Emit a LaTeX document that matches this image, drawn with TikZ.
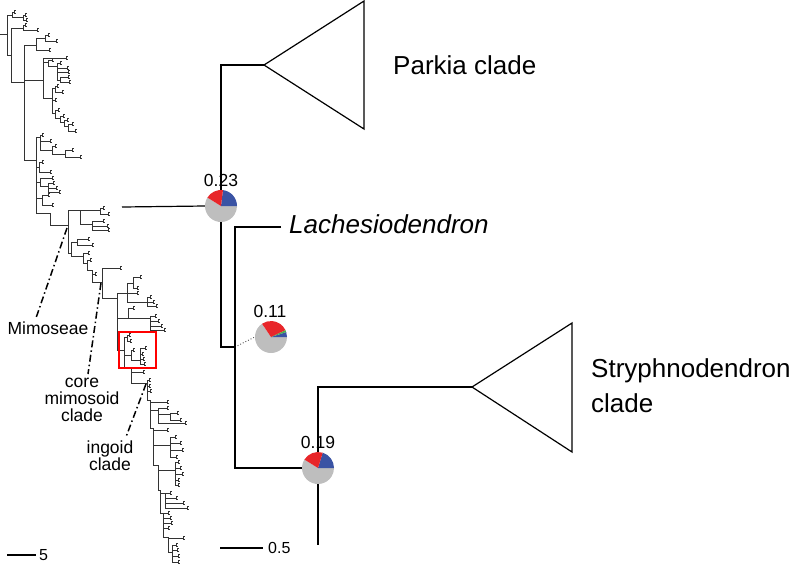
\documentclass[tikz,border=0pt]{standalone}
\usepackage{fontspec}
\setmainfont{Liberation Sans}
\newcommand{\treeH}[3]{\draw[tl] (#1,#3) -- (#2,#3);}
\newcommand{\treeV}[3]{\draw[tl] (#1,#2) -- (#1,#3);}
\newcommand{\treeL}[3]{\draw[tl] (#1,#3) -- (#2,#3) (#2,#3-1.4) -- (#2,#3+1.4) (#2,#3-1.4) -- ++(2.4,0) (#2,#3+1.4) -- ++(2.4,0);}
\tikzset{
  tl/.style={line width=0.65pt, draw=black!80},
  br/.style={line width=1.2pt, draw=black},
  tri/.style={line width=1.2pt, draw=black, line join=miter},
  dashdot/.style={line width=1.5pt, dash pattern=on 7pt off 3pt on 1.5pt off 3pt},
  big/.style={font=\fontsize{26}{30}\selectfont, inner sep=0pt},
  small/.style={font=\fontsize{17.5}{17.5}\selectfont, inner sep=0pt, align=center},
  piecirc/.style={circle, minimum size=32pt, inner sep=0pt},
}
\definecolor{pred}{RGB}{232,38,42}
\definecolor{pblue}{RGB}{58,83,164}
\definecolor{pgray}{RGB}{190,190,190}
\definecolor{pgreen}{RGB}{76,175,80}
\begin{document}
\begin{tikzpicture}[x=1pt,y=-1pt]
\useasboundingbox (0,0) rectangle (794,566);

% ---------------- left overview tree ----------------
\treeH{0}{7}{34} \treeV{7}{15}{55}
\treeH{7}{12}{15} \treeV{12}{12}{17} \treeL{12}{14}{12} \treeH{12}{23}{17} \treeV{23}{15}{20} \treeL{23}{25}{15} \treeL{23}{26}{20}
\treeH{7}{11}{55} \treeV{11}{28}{82}
\treeH{11}{23}{28} \treeV{23}{25}{30} \treeL{23}{25}{25} \treeL{23}{37}{30}
\treeH{11}{24}{82} \treeV{24}{45}{160}
\treeH{24}{36}{45} \treeV{36}{38}{50} \treeH{36}{45}{38} \treeV{45}{35}{41} \treeL{45}{48}{35} \treeL{45}{56}{41} \treeL{36}{49}{50}
\treeH{24}{43}{80} \treeV{43}{58}{98}
\treeL{43}{66}{58}
\treeH{43}{48}{62} \treeV{48}{60}{66} \treeL{48}{52}{60} \treeH{48}{57}{66} \treeV{57}{63}{80} \treeL{57}{60}{63} \treeL{57}{67}{68} \treeL{57}{68}{72} \treeH{57}{60}{80} \treeV{60}{77}{82} \treeL{60}{68}{77} \treeL{60}{69}{82}
\treeH{43}{52}{98} \treeV{52}{88}{113}
\treeH{52}{55}{88} \treeV{55}{86}{92} \treeL{55}{57}{86} \treeL{55}{62}{92}
\treeL{52}{55}{100}
\treeH{52}{55}{113} \treeV{55}{110}{118} \treeL{55}{58}{110}
\treeH{55}{60}{118} \treeV{60}{116}{122} \treeL{60}{63}{116}
\treeH{60}{64}{122} \treeV{64}{120}{126} \treeL{64}{67}{120}
\treeH{64}{68}{126} \treeV{68}{124}{131} \treeL{68}{72}{124} \treeL{68}{75}{131}
\treeH{24}{36}{160} \treeV{36}{137}{213}
\treeH{36}{40}{137} \treeV{40}{135}{150} \treeL{40}{42}{135} \treeL{40}{50}{141} \treeH{40}{52}{150} \treeV{52}{146}{154} \treeL{52}{55}{146} \treeH{52}{65}{154} \treeV{65}{150}{157} \treeL{65}{72}{150} \treeL{65}{80}{157}
\treeH{36}{39}{167} \treeV{39}{162}{172} \treeL{39}{42}{162} \treeL{39}{50}{172}
\treeH{36}{40}{182} \treeV{40}{178}{186} \treeL{40}{52}{178} \treeH{40}{48}{186} \treeV{48}{183}{192} \treeL{48}{53}{183} \treeL{48}{56}{188} \treeL{48}{59}{192}
\treeH{36}{42}{198} \treeV{42}{195}{205} \treeL{42}{48}{195} \treeL{42}{52}{205}
\treeH{36}{50}{213} \treeV{50}{213}{225} \treeH{50}{68}{225}
% Mimoseae node
\treeV{68}{210}{253}
\treeH{68}{80}{210} \treeV{80}{210}{224} \treeH{80}{100}{210} \treeV{100}{208}{214} \treeL{100}{103}{208} \treeL{100}{108}{214}
\treeH{80}{92}{224} \treeV{92}{221}{230} \treeL{92}{103}{221} \treeL{92}{107}{226} \treeL{92}{108}{230}
\treeH{68}{71}{253} \treeV{71}{242}{256} \treeH{71}{77}{242} \treeV{77}{239}{245} \treeL{77}{88}{239} \treeL{77}{92}{245}
\treeH{71}{83}{256} \treeV{83}{253}{263} \treeL{83}{88}{253} \treeH{83}{87}{263} \treeV{87}{260}{270} \treeL{87}{90}{260} \treeH{87}{92}{270} \treeV{92}{270}{282} \treeL{92}{95}{274} \treeH{92}{102}{282}
% core mimosoid node
\treeV{102}{268}{298} \treeL{102}{120}{268}
\treeH{102}{117}{298} \treeV{117}{293}{350}
\treeH{117}{127}{293} \treeV{127}{283}{302} \treeH{127}{133}{283} \treeV{133}{277}{288} \treeL{133}{140}{277} \treeL{133}{137}{288} \treeL{127}{137}{293}
\treeH{127}{147}{302} \treeV{147}{297}{306} \treeL{147}{150}{297} \treeL{147}{153}{302} \treeL{147}{156}{306}
\treeH{117}{128}{318} \treeV{128}{308}{318} \treeL{128}{133}{308} \treeH{128}{150}{318} \treeV{150}{316}{330} \treeL{150}{155}{316} \treeL{150}{158}{321} \treeL{150}{161}{326} \treeL{150}{164}{330}
% red box group
\treeH{117}{124}{350} \treeV{124}{337}{368} \treeH{124}{127}{337} \treeV{127}{335}{341} \treeL{127}{129}{335} \treeL{127}{130}{341}
\treeH{124}{131}{355} \treeV{131}{350}{360} \treeL{131}{133}{350} \treeH{131}{140}{360} \treeV{140}{348}{364} \treeL{140}{145}{348} \treeL{140}{142}{354} \treeL{140}{143}{359} \treeL{140}{144}{364}
\treeH{124}{131}{368} \treeV{131}{368}{383} \treeL{131}{143}{372} \treeH{131}{147}{383}
% ingoid node
\treeV{147}{380}{400} \treeL{147}{149}{380} \treeL{147}{149}{386} \treeL{147}{150}{391}
\treeH{147}{150}{400} \treeV{150}{400}{428}
\treeL{150}{167}{402}
\treeH{150}{158}{410} \treeV{158}{408}{423} \treeL{158}{167}{408} \treeH{158}{170}{414} \treeV{170}{413}{420} \treeL{170}{177}{413} \treeL{170}{180}{420} \treeL{158}{185}{423}
\treeH{150}{153}{428} \treeV{153}{428}{465} \treeL{153}{167}{430}
\treeH{153}{170}{445} \treeV{170}{437}{457} \treeL{170}{175}{437} \treeL{170}{180}{443} \treeL{170}{182}{450} \treeL{170}{176}{457}
\treeH{153}{158}{465} \treeV{158}{465}{490} \treeH{158}{175}{470} \treeV{175}{462}{485} \treeL{175}{178}{462} \treeL{175}{180}{468} \treeL{175}{182}{474} \treeL{175}{178}{480} \treeL{175}{178}{485}
\treeH{158}{160}{490} \treeV{160}{490}{513} \treeH{160}{165}{493} \treeV{165}{493}{508} \treeL{165}{170}{493} \treeL{165}{176}{498} \treeL{165}{183}{503} \treeL{165}{187}{508}
\treeH{160}{163}{513} \treeV{163}{513}{537} \treeL{163}{168}{513} \treeL{163}{170}{518} \treeL{163}{171}{523} \treeL{163}{168}{528}
\treeH{163}{168}{537} \treeV{168}{537}{552} \treeL{168}{183}{538} \treeH{168}{172}{552} \treeV{172}{545}{562} \treeL{172}{176}{545} \treeL{172}{177}{550} \treeL{172}{178}{556} \treeL{172}{178}{562}

% red box
\node[draw=red, line width=1.1pt, minimum width=37pt, minimum height=36pt, inner sep=0pt] (redbox) at (137.5,350) {};

% clade labels and dash-dot pointers
\coordinate (mimnode) at (67,228);
\coordinate (corenode) at (101,283);
\coordinate (ingnode) at (146,384);
\node[small] (mimlab) at (48,328) {Mimoseae};
\node[small] (corelab) at (82,400) {core\\[-0.5pt]mimosoid\\[-0.5pt]clade};
\node[small] (inglab) at (110,456) {ingoid\\[-0.5pt]clade};
\draw[dashdot] (mimnode) -- (36,318);
\draw[dashdot] (corenode) -- (88,374);
\draw[dashdot] (ingnode) -- (126,437);

% ---------------- main expanded tree ----------------
\node[piecirc] (pie23) at (221,206) {};
\node[piecirc] (pie11) at (271,337) {};
\node[piecirc] (pie19) at (318,468) {};
\coordinate (stem) at (122,207);
\coordinate (parkapex) at (264,65);
\coordinate (parktop) at (364,1);
\coordinate (parkbot) at (364,129);
\coordinate (strapex) at (472,387);
\coordinate (strtop) at (572,323);
\coordinate (strbot) at (572,452);
\coordinate (lachend) at (281,227);
\coordinate (jn) at (235,347);
\coordinate (root) at (318,545);

\draw[br] (stem) -- (pie23.west);
\draw[br] (pie23.north) |- (parkapex);
\draw[br] (pie23.south) |- (jn);
\draw[br] (lachend) -| (jn) |- (pie19.west);
\draw[br] (pie19.north) |- (strapex);
\draw[br] (pie19.south) -- (root);
\draw[black!70, line width=0.9pt, dotted, shorten <=3pt] (jn) -- (pie11.west);

\draw[tri] (parkapex) -- (parktop) -- (parkbot) -- cycle;
\draw[tri] (strapex) -- (strtop) -- (strbot) -- cycle;

% pies
\fill[pgray] (pie23.center) -- ++(148:16pt) arc[start angle=148, end angle=360, radius=16pt] -- cycle;
\fill[pblue] (pie23.center) -- ++(0:16pt) arc[start angle=0, end angle=83, radius=16pt] -- cycle;
\fill[pred] (pie23.center) -- ++(83:16pt) arc[start angle=83, end angle=148, radius=16pt] -- cycle;

\fill[pgray] (pie11.center) -- ++(124:16pt) arc[start angle=124, end angle=360, radius=16pt] -- cycle;
\fill[pblue] (pie11.center) -- ++(0:16pt) arc[start angle=0, end angle=18, radius=16pt] -- cycle;
\fill[pgreen] (pie11.center) -- ++(18:16pt) arc[start angle=18, end angle=26, radius=16pt] -- cycle;
\fill[pred] (pie11.center) -- ++(26:16pt) arc[start angle=26, end angle=124, radius=16pt] -- cycle;

\fill[pgray] (pie19.center) -- ++(148:16pt) arc[start angle=148, end angle=360, radius=16pt] -- cycle;
\fill[pblue] (pie19.center) -- ++(0:16pt) arc[start angle=0, end angle=73, radius=16pt] -- cycle;
\fill[pred] (pie19.center) -- ++(73:16pt) arc[start angle=73, end angle=148, radius=16pt] -- cycle;

\node[small] (v23) at (221,180) {0.23};
\node[small] (v11) at (270,311) {0.11};
\node[small] (v19) at (318,442) {0.19};

\node[big, anchor=base west] (parklab) at (393,74) {Parkia clade};
\node[big, anchor=base west] (lachlab) at (289,233) {\itshape Lachesiodendron};
\node[big, anchor=base west, align=left] (strlab) at (591,377) {Stryphnodendron};
\node[big, anchor=base west] (strlab2) at (591,412) {clade};

% scale bars
\coordinate (sbA) at (220,548);
\coordinate (sbB) at (263,548);
\coordinate (sbC) at (7,555);
\coordinate (sbD) at (36,555);
\draw[line width=1.2pt] (sbA) -- (sbB);
\node[font=\fontsize{16}{16}\selectfont, anchor=west, inner sep=0pt] (sbl1) at ([xshift=5pt]sbB) {0.5};
\draw[line width=1.2pt] (sbC) -- (sbD);
\node[font=\fontsize{16}{16}\selectfont, anchor=west, inner sep=0pt] (sbl2) at ([xshift=3pt]sbD) {5};
\end{tikzpicture}
\end{document}
